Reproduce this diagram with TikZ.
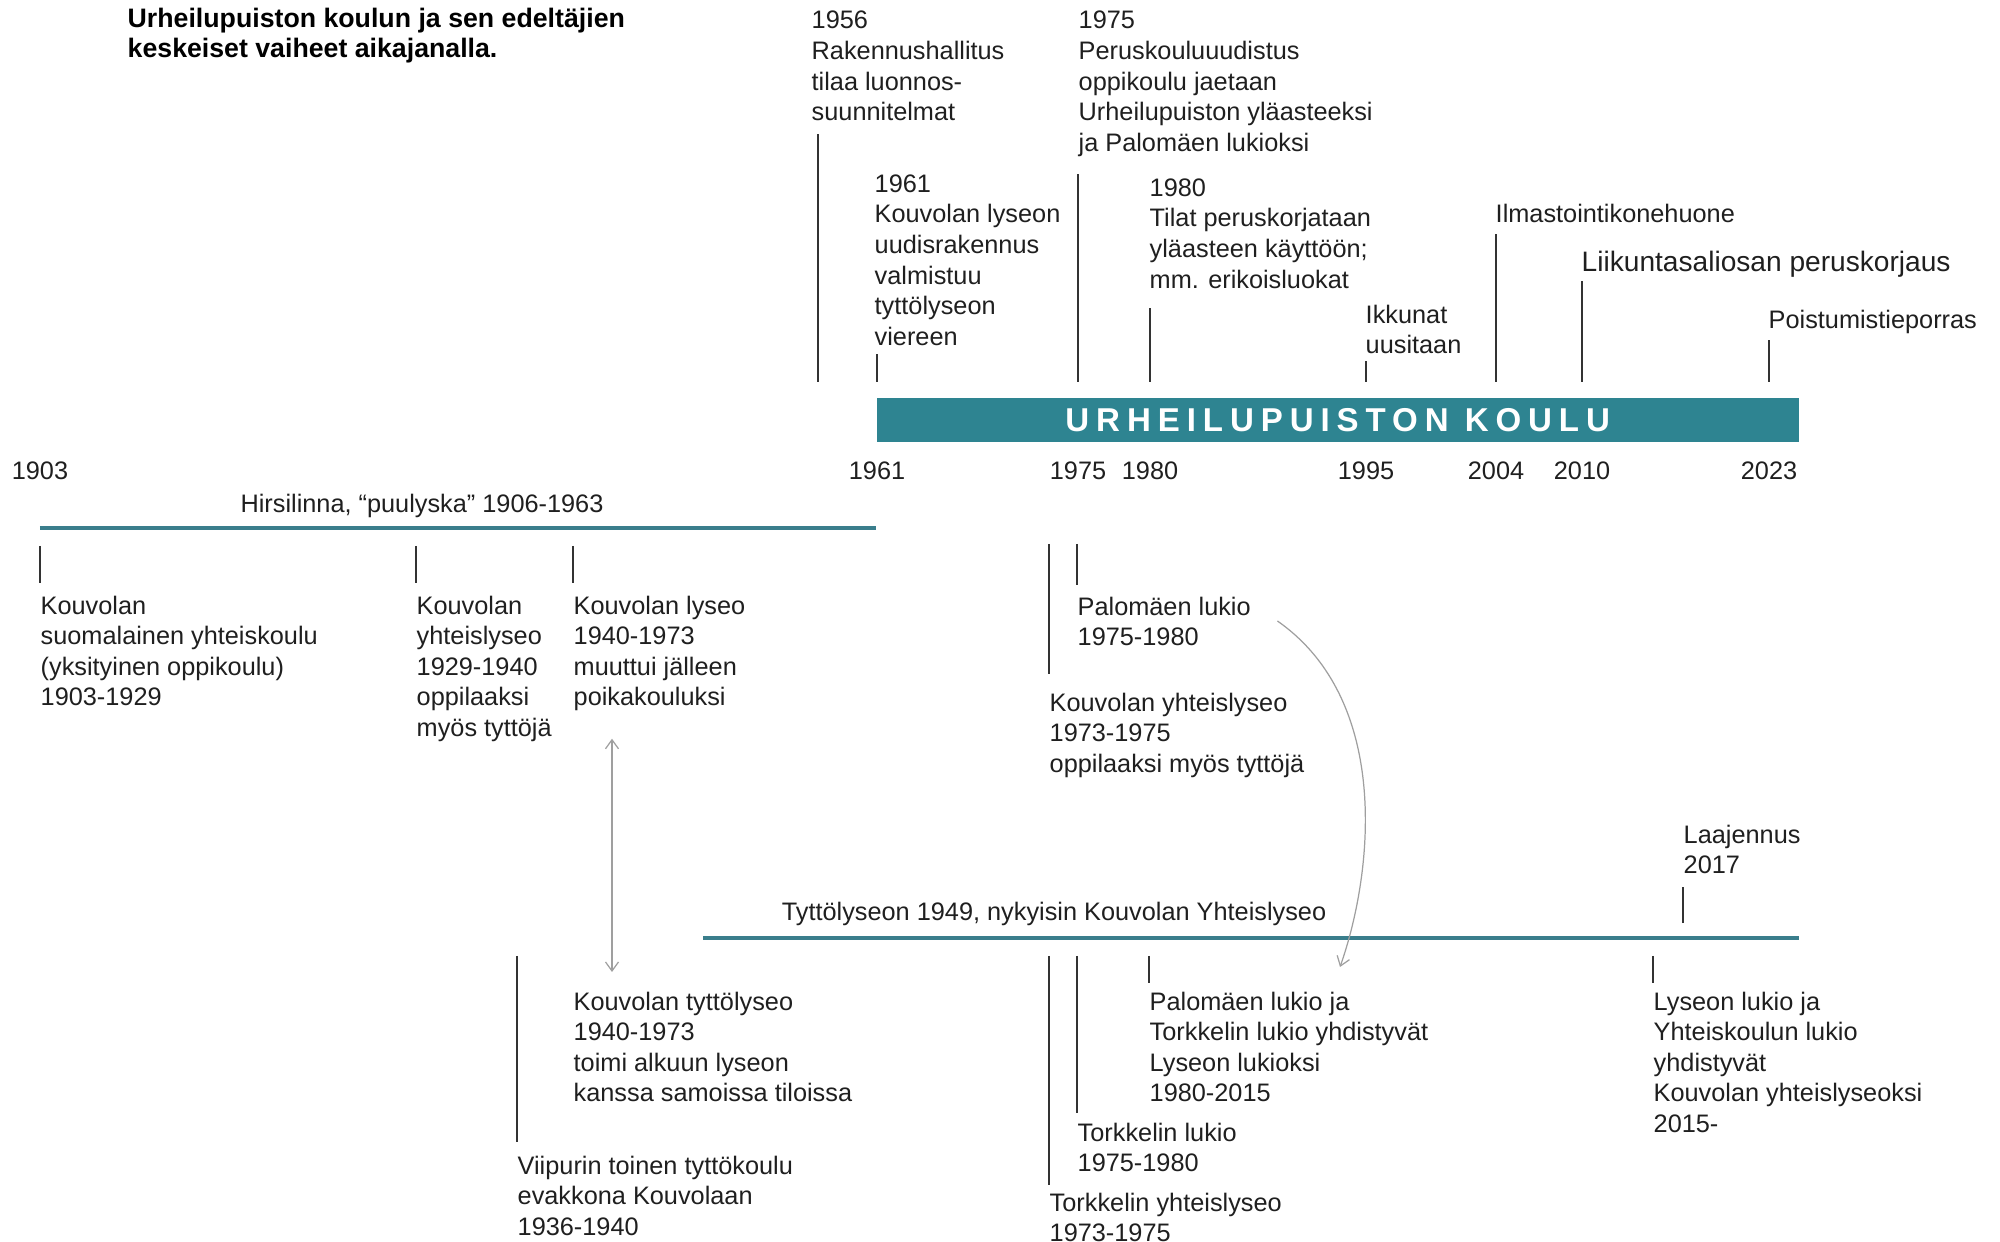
\documentclass[tikz,border=0pt]{standalone}
\usepackage{fontspec}
\setmainfont{Liberation Sans}
\newfontfamily\barfont{Liberation Sans}[LetterSpace=21]
\usepackage{tikz}
\usetikzlibrary{arrows.meta}
\definecolor{barteal}{RGB}{46,132,145}
\definecolor{lineteal}{RGB}{58,126,140}

\begin{document}
\begin{tikzpicture}[
	every node/.style={inner sep=0pt, text=black!88},
	txt/.style={anchor=north west, align=left, yshift=0.2mm, font=\fontsize{7.2}{8.7}\selectfont},
	yr/.style={font=\fontsize{7.2}{8.7}\selectfont},
	tick/.style={black!80, line width=0.4pt},
	period/.style={lineteal, line width=1.15pt},
	link/.style={gray!75, line width=0.35pt, >={Straight Barb[length=0.9mm,width=1.3mm]}}
	]
	\useasboundingbox (0,0) rectangle (20,-12.42);
	
	\node[anchor=north west, align=left, font=\bfseries\fontsize{7.6}{8.55}\selectfont, text=black] (title) at (1.27,-0.075) {Urheilupuiston koulun ja sen edeltäjien\\keskeiset vaiheet aikajanalla.};
	
	\node[fill=barteal, text=white, anchor=north west, minimum width=9.22cm, minimum height=0.44cm, font=\barfont\bfseries\fontsize{9.4}{11}\selectfont] (bar) at (8.76,-3.97) {URHEILUPUISTON KOULU};
	
	\foreach \yy/\x in {1903/0.40, 1961/8.77, 1975/10.78, 1980/11.50, 1995/13.66, 2004/14.96, 2010/15.82, 2023/17.69}
		\node[yr] (y\yy) at (\x,-4.705) {\yy};
	
	\node[txt] (e1956) at (8.11,-0.125) {1956\\Rakennushallitus\\tilaa luonnos-\\suunnitelmat};
	\node[txt] (e1961) at (8.74,-1.76) {1961\\Kouvolan lyseon\\uudisrakennus\\valmistuu\\tyttölyseon\\viereen};
	\node[txt] (e1975) at (10.78,-0.125) {1975\\Peruskouluuudistus\\oppikoulu jaetaan\\Urheilupuiston yläasteeksi\\ja Palomäen lukioksi};
	\node[txt] (e1980) at (11.49,-1.80) {1980\\Tilat peruskorjataan\\yläasteen käyttöön;\\mm. erikoisluokat};
	\node[txt] (e1995) at (13.65,-3.06) {Ikkunat\\uusitaan};
	\node[txt] (e2004) at (14.95,-2.05) {Ilmastointikonehuone};
	\node[txt, font=\fontsize{8}{9.6}\selectfont] (e2010) at (15.81,-2.52) {Liikuntasaliosan peruskorjaus};
	\node[txt] (e2023) at (17.68,-3.11) {Poistumistieporras};
	
	\draw[tick] (bar.north -| e1956.west) ++(0.07,0.15) -- ++(0,2.48);
	\foreach \yy/\l in {1961/0.28, 1975/2.08, 1980/0.74, 1995/0.21, 2004/1.48, 2010/1.01, 2023/0.42}
		\draw[tick] (bar.north -| y\yy) ++(0,0.15) -- ++(0,\l);
	
	\coordinate (hl0) at (0.40,-5.28);
	\draw[period] (hl0) -- (hl0 -| bar.west);
	\node[yr, anchor=base] (hirsi) at (4.22,-5.125) {Hirsilinna, “puulyska” 1906-1963};
	
	\node[txt] (t1903) at (0.40,-5.97) {Kouvolan\\suomalainen yhteiskoulu\\(yksityinen oppikoulu)\\1903-1929};
	\node[txt] (t1929) at (4.16,-5.97) {Kouvolan\\yhteislyseo\\1929-1940\\oppilaaksi\\myös tyttöjä};
	\node[txt] (t1940) at (5.73,-5.97) {Kouvolan lyseo\\1940-1973\\muuttui jälleen\\poikakouluksi};
	\node[txt] (tPalo) at (10.77,-5.98) {Palomäen lukio\\1975-1980};
	\node[txt] (tKY) at (10.49,-6.94) {Kouvolan yhteislyseo\\1973-1975\\oppilaaksi myös tyttöjä};
	
	\foreach \n in {t1903, t1929, t1940}
		\draw[tick] (\n.north west |- hl0) ++(0,-0.18) -- ++(0,-0.37);
	\draw[tick] (tPalo.north west |- hl0) ++(0,-0.16) -- ++(0,-0.41);
	\draw[tick] (tKY.north west |- hl0) ++(0,-0.16) -- ++(0,-1.30);
	
	\coordinate (ll0) at (7.03,-9.38);
	\draw[period] (ll0) -- (ll0 -| bar.east);
	\node[yr, anchor=base] (tytto) at (10.54,-9.20) {Tyttölyseon 1949, nykyisin Kouvolan Yhteislyseo};
	\node[txt] (tLaaj) at (16.83,-8.26) {Laajennus\\2017};
	\draw[tick] (tLaaj.west |- ll0) ++(0,0.15) -- ++(0,0.36);
	
	\node[txt] (tTytto) at (5.73,-9.93) {Kouvolan tyttölyseo\\1940-1973\\toimi alkuun lyseon\\kanssa samoissa tiloissa};
	\node[txt] (tViip) at (5.17,-11.57) {Viipurin toinen tyttökoulu\\evakkona Kouvolaan\\1936-1940};
	\node[txt] (tYhd) at (11.49,-9.93) {Palomäen lukio ja\\Torkkelin lukio yhdistyvät\\Lyseon lukioksi\\1980-2015};
	\node[txt] (tTorkL) at (10.77,-11.24) {Torkkelin lukio\\1975-1980};
	\node[txt] (tTorkY) at (10.49,-11.94) {Torkkelin yhteislyseo\\1973-1975};
	\node[txt] (tLys) at (16.53,-9.93) {Lyseon lukio ja\\Yhteiskoulun lukio\\yhdistyvät\\Kouvolan yhteislyseoksi\\2015-};
	
	\foreach \n/\l in {tViip/1.86, tTorkY/2.29, tTorkL/1.57, tYhd/0.27, tLys/0.27}
		\draw[tick] (\n.north west |- ll0) ++(0,-0.18) -- ++(0,-\l);
	
	\draw[link, <->] ([xshift=0.39cm,yshift=-0.27cm]t1940.south west) -- ([xshift=0.39cm,yshift=0.19cm]tTytto.north west);
	
	\coordinate (c0) at ([xshift=0.26cm,yshift=-0.25cm]tPalo.north east);
	\coordinate (c1) at ([xshift=1.91cm,yshift=0.24cm]tYhd.north west);
	\draw[link, ->] (c0) .. controls ([shift={(1.13,-0.79)}]c0) and ([shift={(0.34,0.97)}]c1) .. (c1);
\end{tikzpicture}
\end{document}
